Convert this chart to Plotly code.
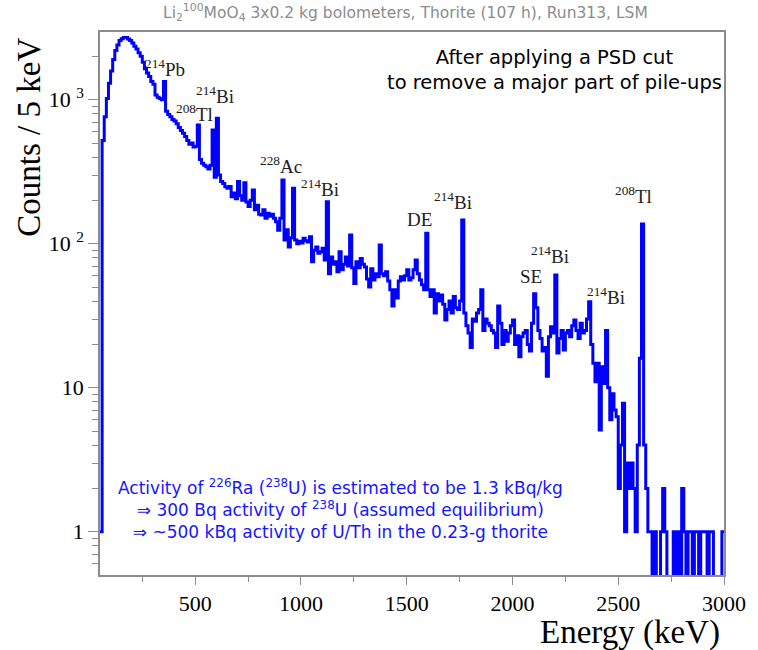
import numpy as np
import plotly.graph_objects as go

# Li2(100)MoO4 spectrum with thorite source, 10 keV bins (left edges)
bin_lo = np.arange(50, 3000, 10)
counts = [
    1, 520, 760, 1020, 1300, 1580, 1900, 2200, 2400, 2580,          # 50-140
    2650, 2700, 2700, 2640, 2580, 2480, 2350, 2250, 2120, 2000,     # 150-240
    1820, 1640, 1530, 1450, 1340, 1280, 1080, 1040, 1020, 1000,     # 250-340
    1335, 830, 790, 760, 730, 710, 680, 640, 610, 585,              # 350-440
    555, 520, 490, 500, 470, 475, 667, 385, 362, 350,               # 450-540
    343, 330, 350, 617, 290, 743, 300, 270, 262, 249,               # 550-640
    243, 250, 212, 225, 205, 270, 215, 200, 265, 195,               # 650-740
    181, 200, 236, 172, 185, 160, 158, 172, 150, 163,               # 750-840
    155, 160, 150, 142, 124, 150, 277, 106, 125, 95,                # 850-940
    110, 243, 106, 100, 104, 101, 109, 105, 103, 112,               # 950-1040
    75, 90, 95, 86, 88, 93, 77, 196, 62, 81,                        # 1050-1140
    72, 75, 64, 88, 66, 72, 81, 70, 115, 68,                        # 1150-1240
    53, 75, 68, 79, 72, 69, 57, 50, 67, 56,                         # 1250-1340
    62, 59, 98, 62, 60, 64, 55, 48, 37, 48,                         # 1350-1440
    42, 55, 59, 56, 60, 66, 56, 58, 66, 77,                         # 1450-1540
    62, 56, 52, 48, 118, 48, 43, 48, 33, 45,                        # 1550-1640
    40, 44, 38, 29.5, 35, 40, 33, 43, 36, 35,                       # 1650-1740
    40, 146, 33, 27, 24, 19, 30, 29, 33, 35,                        # 1750-1840
    48, 25, 30, 28, 27, 25, 24, 19, 37, 28,                         # 1850-1940
    20, 25, 21, 24, 27, 29.5, 20, 23, 16.4, 22.6,                   # 1950-2040
    24, 25, 20, 18, 28, 45, 36, 25, 22, 18,                         # 2050-2140
    19, 12, 22.6, 26.5, 24, 60.6, 17.4, 22, 25, 18.3,               # 2150-2240
    24, 25, 22.6, 27, 29.5, 25, 22, 28, 24, 25,                     # 2250-2340
    30, 39.5, 20, 14.8, 11, 14.8, 5.1, 14, 10.7, 25,                # 2350-2440
    10, 6, 9.1, 7, 6.3, 2, 4, 7.8, 1, 3,                            # 2450-2540
    2, 3, 2, 1, 4, 16, 137, 4, 2, 1,                                # 2550-2640
    1, 0, 1, 0, 0, 1, 2, 1, 0, 0,                                   # 2650-2740
    0, 1, 0, 1, 0, 2, 1, 0, 1, 1,                                   # 2750-2840
    0, 1, 1, 0, 1, 1, 1, 0, 1, 1,                                   # 2850-2940
    0, 0, 0, 0, 1,                                                  # 2950-2990
]

peak_names = ["<sup>214</sup>Pb", "<sup>214</sup>Bi", "<sup>208</sup>Tl", "<sup>228</sup>Ac",
              "<sup>214</sup>Bi", "DE", "<sup>214</sup>Bi", "SE", "<sup>214</sup>Bi",
              "<sup>214</sup>Bi", "<sup>208</sup>Tl"]

GRAY = "#8c8c8c"
SERIF = "Liberation Serif"
SANS = "DejaVu Sans"

y = np.array(counts, dtype=float)
y = np.where(y > 0, y, 0.1)   # empty bins fall below the frame
x = np.append(bin_lo, 3000)
y = np.append(y, y[-1])

fig = go.Figure(go.Scatter(x=x, y=y, mode="lines", line_shape="hv",
                           line=dict(color="#0000ff", width=3), showlegend=False))

# label anchors (energy, log10 counts)
label_pos = [(355, 3.22), (593, 3.03), (495, 2.91), (905, 2.55), (1091, 2.39),
             (1562, 2.165), (1720, 2.30), (2088, 1.77), (2177, 1.92), (2442, 1.64), (2572, 2.34)]
annos = []
for name, (ex, ly) in zip(peak_names, label_pos):
    annos.append(dict(x=ex, y=ly, xref="x", yref="y", text=name, showarrow=False,
                      xanchor="center", yanchor="middle",
                      font=dict(family=SERIF, size=19, color="#222")))

annos += [
    dict(x=0.489, y=1.035, xref="paper", yref="paper", showarrow=False,
         xanchor="center", yanchor="middle",
         text="Li<sub>2</sub><sup>100</sup>MoO<sub>4</sub> 3x0.2 kg bolometers, Thorite (107 h), Run313, LSM",
         font=dict(family=SANS, size=15.5, color=GRAY)),
    dict(x=0.728, y=0.93, xref="paper", yref="paper", showarrow=False, align="center",
         xanchor="center", yanchor="middle",
         text="After applying a PSD cut<br>to remove a major part of pile-ups",
         font=dict(family=SANS, size=19.5, color="black")),
    dict(x=0.385, y=0.1215, xref="paper", yref="paper", showarrow=False, align="center",
         xanchor="center", yanchor="middle",
         text="Activity of <sup>226</sup>Ra (<sup>238</sup>U) is estimated to be 1.3 kBq/kg<br>"
              "\u21d2 300 Bq activity of <sup>238</sup>U (assumed equilibrium)<br>"
              "\u21d2 ~500 kBq activity of U/Th in the 0.23-g thorite",
         font=dict(family=SANS, size=17, color="#1515ff")),
    dict(x=-0.114, y=0.807, xref="paper", yref="paper", showarrow=False, textangle=-90,
         xanchor="center", yanchor="middle",
         text="Counts / 5 keV", font=dict(family=SERIF, size=33, color="black")),
    dict(x=0.997, y=-0.105, xref="paper", yref="paper", showarrow=False,
         xanchor="right", yanchor="middle",
         text="Energy (keV)", font=dict(family=SERIF, size=33, color="black")),
]

fig.update_layout(
    width=758, height=650,
    margin=dict(l=100, r=26, t=32, b=75),
    plot_bgcolor="white", paper_bgcolor="white",
    annotations=annos,
    xaxis=dict(range=[50, 3000], tickmode="linear", tick0=0, dtick=500,
               showgrid=False, zeroline=False, showline=True, linecolor=GRAY, linewidth=1.5,
               mirror=True, ticks="outside", ticklen=8, tickcolor=GRAY,
               minor=dict(dtick=250, tick0=0, ticks="outside", ticklen=5, tickcolor=GRAY),
               tickfont=dict(family=SERIF, size=22, color="black")),
    yaxis=dict(type="log", range=[-0.30, 3.47],
               tickmode="array", tickvals=[1, 10, 100, 1000],
               ticktext=["1", "10", "10 <sup>2</sup>", "10 <sup>3</sup>"],
               showgrid=False, zeroline=False, showline=True, linecolor=GRAY, linewidth=1.5,
               mirror=True, ticks="outside", ticklen=10, tickcolor=GRAY,
               minor=dict(dtick="D1", ticks="outside", ticklen=6, tickcolor=GRAY),
               tickfont=dict(family=SERIF, size=22, color="black")),
)

# drop the default 8 px page margin so the figure fills the window
fig.write_html("out.html", config={"displayModeBar": False},
               post_script="document.body.style.margin='0';")
